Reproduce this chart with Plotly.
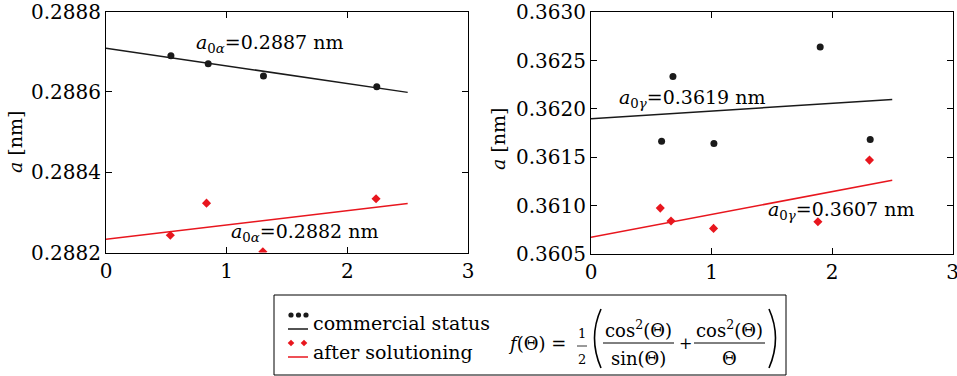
import plotly.graph_objects as go

# ---------------- data ----------------
# left panel (alpha phase)
alpha_comm_x = [0.538, 0.847, 1.305, 2.244]
alpha_comm_y = [0.28869, 0.28867, 0.28864, 0.288613]
alpha_sol_x = [0.533, 0.833, 1.300, 2.238]
alpha_sol_y = [0.288243, 0.288323, 0.288202, 0.288334]
alpha_comm_fit_x = [0.0, 2.5]
alpha_comm_fit_y = [0.288709, 0.288599]
alpha_sol_fit_x = [0.0, 2.5]
alpha_sol_fit_y = [0.288233, 0.288322]

# right panel (gamma phase)
gamma_comm_x = [0.586, 0.680, 1.020, 1.902, 2.317]
gamma_comm_y = [0.361667, 0.362335, 0.361643, 0.362642, 0.361685]
gamma_sol_x = [0.575, 0.664, 1.017, 1.883, 2.311]
gamma_sol_y = [0.360975, 0.360841, 0.360765, 0.360834, 0.361471]
gamma_comm_fit_x = [0.0, 2.5]
gamma_comm_fit_y = [0.361898, 0.362098]
gamma_sol_fit_x = [0.0, 2.5]
gamma_sol_fit_y = [0.360672, 0.361264]

x_ticks = [0, 1, 2, 3]
alpha_y_ticks = [0.2882, 0.2884, 0.2886, 0.2888]
gamma_y_ticks = [0.3605, 0.3610, 0.3615, 0.3620, 0.3625, 0.3630]

# ---------------- style ----------------
W, H = 957, 376
FONT = "DejaVu Serif"
BLACK = "#1a1a1a"
RED = "#e8161e"


def px(x):
    return x / W


def py(y):
    return 1 - y / H


fig = go.Figure()

# left panel
fig.add_trace(go.Scatter(x=alpha_comm_fit_x, y=alpha_comm_fit_y, mode="lines",
                         line=dict(color=BLACK, width=1.5), xaxis="x", yaxis="y"))
fig.add_trace(go.Scatter(x=alpha_sol_fit_x, y=alpha_sol_fit_y, mode="lines",
                         line=dict(color=RED, width=1.5), xaxis="x", yaxis="y"))
fig.add_trace(go.Scatter(x=alpha_comm_x, y=alpha_comm_y, mode="markers",
                         marker=dict(color=BLACK, size=7, symbol="circle"), xaxis="x", yaxis="y"))
fig.add_trace(go.Scatter(x=alpha_sol_x, y=alpha_sol_y, mode="markers",
                         marker=dict(color=RED, size=7, symbol="diamond"), xaxis="x", yaxis="y"))

# right panel
fig.add_trace(go.Scatter(x=gamma_comm_fit_x, y=gamma_comm_fit_y, mode="lines",
                         line=dict(color=BLACK, width=1.5), xaxis="x2", yaxis="y2"))
fig.add_trace(go.Scatter(x=gamma_sol_fit_x, y=gamma_sol_fit_y, mode="lines",
                         line=dict(color=RED, width=1.5), xaxis="x2", yaxis="y2"))
fig.add_trace(go.Scatter(x=gamma_comm_x, y=gamma_comm_y, mode="markers",
                         marker=dict(color=BLACK, size=7, symbol="circle"), xaxis="x2", yaxis="y2"))
fig.add_trace(go.Scatter(x=gamma_sol_x, y=gamma_sol_y, mode="markers",
                         marker=dict(color=RED, size=7, symbol="diamond"), xaxis="x2", yaxis="y2"))

axis_common = dict(showline=True, linecolor="black", linewidth=1, mirror="allticks",
                   ticks="inside", ticklen=6, tickcolor="black", showgrid=False,
                   zeroline=False, automargin=False, ticklabeloverflow="allow",
                   tickfont=dict(family=FONT, size=20, color="black"))

fig.update_layout(
    width=W, height=H,
    margin=dict(l=0, r=0, t=0, b=0, pad=0),
    paper_bgcolor="white", plot_bgcolor="white",
    showlegend=False,
    xaxis=dict(domain=[px(106), px(468)], range=[0, 3], tickvals=x_ticks,
               ticktext=[str(v) for v in x_ticks], anchor="y", **axis_common),
    yaxis=dict(domain=[py(252.5), py(11.7)], range=[0.2882, 0.2888], tickvals=alpha_y_ticks,
               ticktext=[f"{v:.4f}" for v in alpha_y_ticks], anchor="x", **axis_common),
    xaxis2=dict(domain=[px(591), px(952.5)], range=[0, 3], tickvals=x_ticks,
                ticktext=[str(v) for v in x_ticks], anchor="y2", **axis_common),
    yaxis2=dict(domain=[py(254), py(12.3)], range=[0.3605, 0.3630], tickvals=gamma_y_ticks,
                ticktext=[f"{v:.4f}" for v in gamma_y_ticks], anchor="x2", **axis_common),
)

ann_font = dict(family=FONT, size=19, color="black")
fml = dict(family=FONT, size=18, color="black")

annotations = [
    dict(x=0.73, y=0.288722, xref="x", yref="y", xanchor="left", yanchor="middle",
         text="<i>a</i><sub>0<i>α</i></sub>=0.2887 nm", showarrow=False, font=ann_font),
    dict(x=1.02, y=0.288251, xref="x", yref="y", xanchor="left", yanchor="middle",
         text="<i>a</i><sub>0<i>α</i></sub>=0.2882 nm", showarrow=False, font=ann_font),
    dict(x=0.215, y=0.362104, xref="x2", yref="y2", xanchor="left", yanchor="middle",
         text="<i>a</i><sub>0<i>γ</i></sub>=0.3619 nm", showarrow=False, font=ann_font),
    dict(x=1.45, y=0.360947, xref="x2", yref="y2", xanchor="left", yanchor="middle",
         text="<i>a</i><sub>0<i>γ</i></sub>=0.3607 nm", showarrow=False, font=ann_font),
    # y axis titles
    dict(x=px(2), y=py(142), xref="paper", yref="paper", textangle=-90,
         xanchor="left", yanchor="middle",
         text="<i>a</i> [nm]", showarrow=False, font=ann_font),
    dict(x=px(485), y=py(139), xref="paper", yref="paper", textangle=-90,
         xanchor="left", yanchor="middle",
         text="<i>a</i> [nm]", showarrow=False, font=ann_font),
    # legend texts
    dict(x=px(311), y=py(323), xref="paper", yref="paper", xanchor="left", yanchor="middle",
         text="commercial status", showarrow=False, font=ann_font),
    dict(x=px(311), y=py(352), xref="paper", yref="paper", xanchor="left", yanchor="middle",
         text="after solutioning", showarrow=False, font=ann_font),
    # formula
    dict(x=px(568), y=py(343), xref="paper", yref="paper", xanchor="right", yanchor="middle",
         text="<i>f</i>(Θ) =", showarrow=False, font=fml),
    dict(x=px(582), y=py(333), xref="paper", yref="paper", xanchor="center", yanchor="middle",
         text="1", showarrow=False, font=dict(family=FONT, size=13, color="black")),
    dict(x=px(582), y=py(359), xref="paper", yref="paper", xanchor="center", yanchor="middle",
         text="2", showarrow=False, font=dict(family=FONT, size=13, color="black")),
    dict(x=px(638), y=py(329), xref="paper", yref="paper", xanchor="center", yanchor="middle",
         text="cos<sup>2</sup>(Θ)", showarrow=False, font=fml),
    dict(x=px(638), y=py(358), xref="paper", yref="paper", xanchor="center", yanchor="middle",
         text="sin(Θ)", showarrow=False, font=fml),
    dict(x=px(685), y=py(343), xref="paper", yref="paper", xanchor="center", yanchor="middle",
         text="+", showarrow=False, font=dict(family=FONT, size=16, color="black")),
    dict(x=px(729), y=py(329), xref="paper", yref="paper", xanchor="center", yanchor="middle",
         text="cos<sup>2</sup>(Θ)", showarrow=False, font=fml),
    dict(x=px(729), y=py(358), xref="paper", yref="paper", xanchor="center", yanchor="middle",
         text="Θ", showarrow=False, font=fml),
]
fig.update_layout(annotations=annotations)


def pline(x0, y0, x1, y1, color="black", width=1):
    return dict(type="line", xref="paper", yref="paper", x0=px(x0), y0=py(y0), x1=px(x1), y1=py(y1),
                line=dict(color=color, width=width))


shapes = [
    # legend box
    dict(type="rect", xref="paper", yref="paper", x0=px(274), y0=py(375), x1=px(786), y1=py(295),
         line=dict(color="black", width=1), fillcolor="rgba(0,0,0,0)"),
    # legend lines
    pline(288, 329, 308, 329, BLACK, 1.5),
    pline(288, 357, 308, 357, RED, 1.5),
    # fraction bars
    pline(577, 346, 587, 346, "black", 0.8),
    pline(603, 343, 674, 343, "black", 1),
    pline(694, 343, 765, 343, "black", 1),
    # big parentheses
    dict(type="path", xref="paper", yref="paper",
         path=f"M {px(601)},{py(309)} Q {px(588)},{py(338)} {px(601)},{py(368)}",
         line=dict(color="black", width=1.6)),
    dict(type="path", xref="paper", yref="paper",
         path=f"M {px(769)},{py(309)} Q {px(782)},{py(338)} {px(769)},{py(368)}",
         line=dict(color="black", width=1.6)),
]
# legend glyphs: dots and diamonds
for cx in (291, 298.5, 306):
    r = 2.6
    shapes.append(dict(type="circle", xref="paper", yref="paper",
                       x0=px(cx - r), x1=px(cx + r), y0=py(315 + r), y1=py(315 - r),
                       fillcolor=BLACK, line=dict(color=BLACK, width=0)))
for cx in (291, 304):
    d = 3.3
    cy = 343
    shapes.append(dict(type="path", xref="paper", yref="paper",
                       path=f"M {px(cx)},{py(cy - d)} L {px(cx + d)},{py(cy)} L {px(cx)},{py(cy + d)} L {px(cx - d)},{py(cy)} Z",
                       fillcolor=RED, line=dict(color=RED, width=0)))
fig.update_layout(shapes=shapes)

fig.write_html("out.html", config={"displayModeBar": False},
               post_script="document.body.style.margin='0px';document.body.style.padding='0px';")
